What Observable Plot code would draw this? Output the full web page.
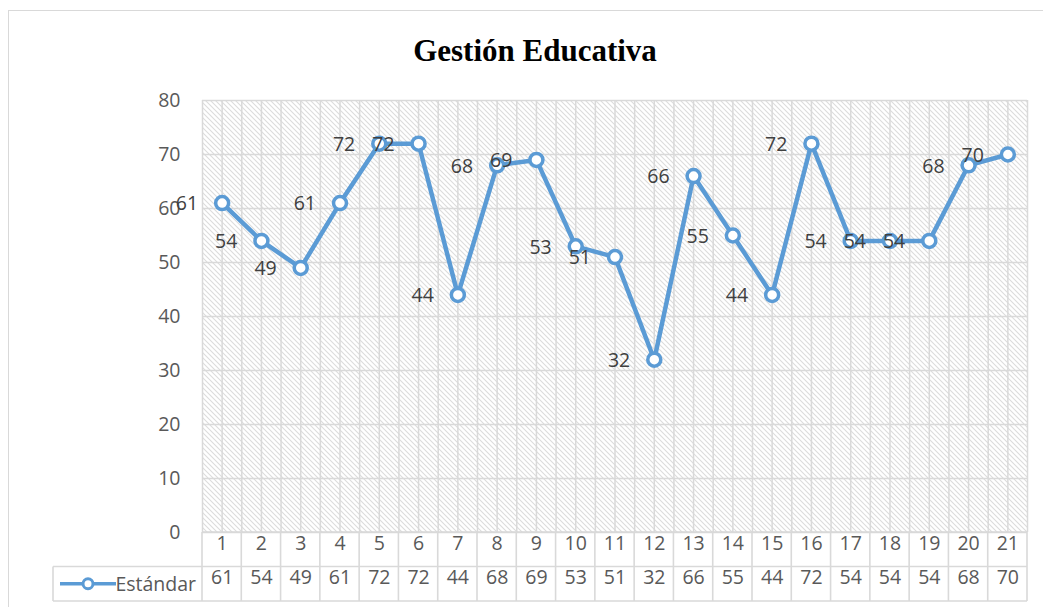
<!DOCTYPE html>
<html>
<head>
<meta charset="utf-8">
<script src="https://cdn.jsdelivr.net/npm/d3@7"></script>
<script src="https://cdn.jsdelivr.net/npm/@observablehq/plot@0.6"></script>
<style>
  body { margin: 0; background: #fff; }
  #wrap { position: relative; width: 1043px; height: 607px; overflow: hidden; background: #fff; }
  #border { position: absolute; left: 8px; top: 10px; width: 1100px; height: 700px; border: 1.5px solid #d9d9d9; box-sizing: border-box; }
  #title { position: absolute; left: 0; top: 35px; width: 1070px; text-align: center; font-family: "Liberation Serif", "Times New Roman", serif; font-weight: bold; font-size: 31px; line-height: 31px; color: #000; }
  #chart { position: absolute; left: 0; top: 0; }
</style>
</head>
<body>
<div id="wrap">
  <div id="border"></div>
  <div id="chart"></div>
  <div id="title"></div>
</div>
<script>
const title = "Gestión Educativa";
const seriesName = "Estándar";
const categories = [1, 2, 3, 4, 5, 6, 7, 8, 9, 10, 11, 12, 13, 14, 15, 16, 17, 18, 19, 20, 21];
const estandar = [61, 54, 49, 61, 72, 72, 44, 68, 69, 53, 51, 32, 66, 55, 44, 72, 54, 54, 54, 68, 70];
const yTicks = [0, 10, 20, 30, 40, 50, 60, 70, 80];

const data = categories.map((c, i) => ({cat: c, value: estandar[i]}));

const BLUE = "#5B9BD5";
const GRID = "#d9d9d9";
const FONT = "'Open Sans', sans-serif";
const FS = 19.5;
const ROW_H = 34.5;

document.getElementById("title").textContent = title;

// half-category vertical gridlines (boundaries and centers)
const vGrid = [categories[0] - 0.5].concat(categories.flatMap(c => [c, c + 0.5]));
const boundaries = [categories[0] - 0.5].concat(categories.map(c => c + 0.5));

function hatchMark(index, scales, values, dim) {
  const g = d3.create("svg:g");
  const defs = g.append("defs");
  const p = defs.append("pattern").attr("id", "hatch").attr("patternUnits", "userSpaceOnUse")
    .attr("width", 5).attr("height", 5);
  p.append("path").attr("d", "M-1,-1L6,6M-1,4L1,6M4,-1L6,1")
    .attr("stroke", "#dcdcdc").attr("stroke-width", 1.1).attr("fill", "none");
  g.append("rect")
    .attr("x", dim.marginLeft).attr("y", dim.marginTop)
    .attr("width", dim.width - dim.marginLeft - dim.marginRight)
    .attr("height", dim.height - dim.marginTop - dim.marginBottom)
    .attr("fill", "url(#hatch)");
  return g.node();
}

function tableMark(index, scales, values, dim) {
  const root = d3.create("svg:g");
  const g = root.append("g").attr("stroke", GRID).attr("stroke-width", 1.6).attr("fill", "none");
  const top = dim.height - dim.marginBottom;
  const mid = top + ROW_H;
  const bot = top + 2 * ROW_H;
  const left = dim.marginLeft;
  const right = dim.width - dim.marginRight;
  const keyLeft = 53;
  for (const b of boundaries) {
    const x = scales.x(b);
    g.append("line").attr("x1", x).attr("x2", x).attr("y1", top).attr("y2", bot);
  }
  g.append("line").attr("x1", left).attr("x2", right).attr("y1", top).attr("y2", top);
  g.append("line").attr("x1", keyLeft).attr("x2", right).attr("y1", mid).attr("y2", mid);
  g.append("line").attr("x1", keyLeft).attr("x2", right).attr("y1", bot).attr("y2", bot);
  g.append("line").attr("x1", keyLeft).attr("x2", keyLeft).attr("y1", mid).attr("y2", bot);
  // legend key
  const ky = mid + ROW_H / 2;
  const k = root.append("g");
  k.append("line").attr("x1", 60).attr("x2", 116).attr("y1", ky).attr("y2", ky)
    .attr("stroke", BLUE).attr("stroke-width", 3.5);
  k.append("circle").attr("cx", 88).attr("cy", ky).attr("r", 5)
    .attr("fill", "#fff").attr("stroke", BLUE).attr("stroke-width", 3);
  k.append("text").attr("x", 196).attr("y", ky).attr("dy", "0.35em")
    .attr("text-anchor", "end").attr("fill", "#595959").attr("stroke", "none")
    .attr("font-family", FONT).attr("font-size", FS).text(seriesName);
  return root.node();
}

const chart = Plot.plot({
  width: 1043,
  height: 607,
  marginLeft: 202,
  marginRight: 16,
  marginTop: 100,
  marginBottom: 75,
  style: {background: "transparent", fontFamily: FONT, overflow: "visible"},
  x: {domain: [categories[0] - 0.5, categories[categories.length - 1] + 0.5], axis: null},
  y: {domain: [yTicks[0], yTicks[yTicks.length - 1]], axis: null},
  marks: [
    hatchMark,
    Plot.ruleX(vGrid, {stroke: GRID, strokeWidth: 1.5}),
    Plot.ruleY(yTicks, {stroke: GRID, strokeWidth: 1.5}),
    Plot.axisY({ticks: yTicks, tickSize: 0, tickPadding: 22, fontSize: FS, fill: "#595959", label: null}),
    tableMark,
    Plot.text(categories, {x: d => d, text: d => String(d), frameAnchor: "bottom", dy: ROW_H / 2, fontSize: FS, fill: "#595959"}),
    Plot.text(data, {x: "cat", text: d => String(d.value), frameAnchor: "bottom", dy: ROW_H * 1.5, fontSize: FS, fill: "#595959"}),
    Plot.line(data, {x: "cat", y: "value", stroke: BLUE, strokeWidth: 4.5, strokeLinejoin: "round"}),
    Plot.dot(data, {x: "cat", y: "value", r: 6.5, fill: "#fff", stroke: BLUE, strokeWidth: 3.5}),
    Plot.text(data, {x: "cat", y: "value", text: d => String(d.value), textAnchor: "end", dx: -24, dy: 1, fontSize: FS, fill: "#404040"})
  ]
});
document.getElementById("chart").appendChild(chart);
</script>
</body>
</html>
